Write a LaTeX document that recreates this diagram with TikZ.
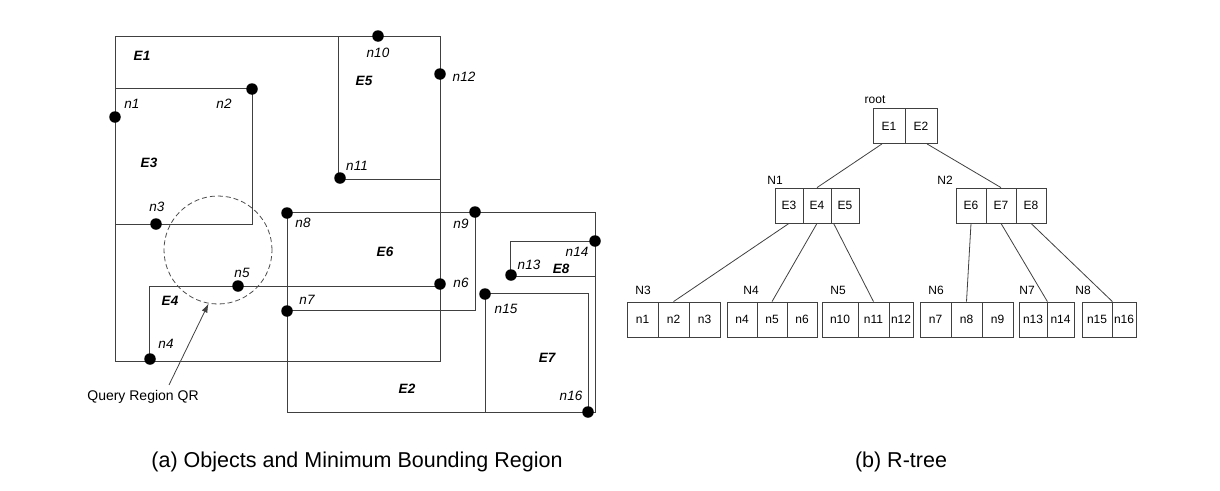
\documentclass[tikz,border=0pt]{standalone}
\usepackage{fontspec}
\setmainfont{Liberation Sans}
\usetikzlibrary{arrows.meta,calc}

\tikzset{
	mbr/.style = {draw = black!75, line width = 0.9pt},
	dot/.style = {circle, fill = black, inner sep = 0pt, minimum size = 11.5pt},
	elab/.style = {font = \fontsize{13.5}{15}\selectfont\bfseries\itshape},
	nlab/.style = {font = \fontsize{13.5}{15}\selectfont\itshape},
	cell/.style = {draw = black!75, line width = 0.8pt, minimum height = 35pt, inner sep = 0pt, font = \fontsize{12}{14}\selectfont},
	tlab/.style = {font = \fontsize{12}{14}\selectfont},
	edge/.style = {draw = black!75, line width = 0.8pt},
	caption/.style = {font = \fontsize{21.5}{24}\selectfont}
}

\begin{document}
\begin{tikzpicture} [x = 1pt, y = -1pt]
	\useasboundingbox (0,0) rectangle (1220,490);
	% (a) bounding regions
	\draw [mbr] (115,36) rectangle (440,361);   % E1
	\draw [mbr] (338,36) rectangle (440,179);   % E5
	\draw [mbr] (115,88) rectangle (252,224);   % E3
	\draw [mbr] (149,286) rectangle (440,361);  % E4
	\draw [mbr] (287,212) rectangle (475,310);  % E6
	\draw [mbr] (287,212) rectangle (595,412);  % E2
	\draw [mbr] (510,241) rectangle (595,276);  % E8
	\draw [mbr] (485,293) rectangle (588,412);  % E7
	% objects
	\node [dot] (p1) at (115,117) {};
	\node [dot] (p2) at (252,89) {};
	\node [dot] (p3) at (156,224) {};
	\node [dot] (p4) at (150,359) {};
	\node [dot] (p5) at (238,286) {};
	\node [dot] (p6) at (440,284) {};
	\node [dot] (p7) at (287,311) {};
	\node [dot] (p8) at (287,213) {};
	\node [dot] (p9) at (475,212) {};
	\node [dot] (p10) at (378,36) {};
	\node [dot] (p11) at (340,178) {};
	\node [dot] (p12) at (440,74) {};
	\node [dot] (p13) at (511,275) {};
	\node [dot] (p14) at (595,241) {};
	\node [dot] (p15) at (485,294) {};
	\node [dot] (p16) at (588,412) {};
	\node [elab] (le1) at (142,56) {E1};
	\node [elab] (le2) at (407,389) {E2};
	\node [elab] (le3) at (149,163) {E3};
	\node [elab] (le4) at (170,301) {E4};
	\node [elab] (le5) at (364,81) {E5};
	\node [elab] (le6) at (385,252) {E6};
	\node [elab] (le7) at (547,358) {E7};
	\node [elab] (le8) at (561,269) {E8};
	\node [nlab] (ln1) at (132,104) {n1};
	\node [nlab] (ln2) at (224,104) {n2};
	\node [nlab] (ln3) at (157,207) {n3};
	\node [nlab] (ln4) at (166,344) {n4};
	\node [nlab] (ln5) at (242,273) {n5};
	\node [nlab] (ln6) at (461,283) {n6};
	\node [nlab] (ln7) at (307,300) {n7};
	\node [nlab] (ln8) at (303,223) {n8};
	\node [nlab] (ln9) at (461,224) {n9};
	\node [nlab] (ln10) at (378,53) {n10};
	\node [nlab] (ln11) at (357,166) {n11};
	\node [nlab] (ln12) at (464,77) {n12};
	\node [nlab] (ln13) at (529,265) {n13};
	\node [nlab] (ln14) at (577,252) {n14};
	\node [nlab] (ln15) at (506,309) {n15};
	\node [nlab] (ln16) at (571,396) {n16};
	% query region
	\node [circle, draw = black!70, line width = 0.8pt, dash pattern = on 5pt off 3pt, minimum size = 108pt, inner sep = 0pt] (qrc) at (218,250) {};
	\node [font = \fontsize{14}{16}\selectfont] (qr) at (143,397) {Query Region QR};
	\draw [edge, -{Latex[length = 9pt, width = 6pt]}] ($(qr.north) + (26,-2)$) -- (qrc.260);
	\node [caption] (capa) at (357,462) {(a) Objects and Minimum Bounding Region};

	% (b) R-tree
	\node [tlab] (lroot) at (875,100) {root};
	\node [cell, minimum width = 32pt] (r1) at (889,126) {E1};
	\node [cell, minimum width = 32pt] (r2) at (921,126) {E2};
	\node [tlab] (lN1) at (775,180) {N1};
	\node [cell, minimum width = 28pt] (e3) at (789,205.5) {E3};
	\node [cell, minimum width = 28pt] (e4) at (817,205.5) {E4};
	\node [cell, minimum width = 28pt] (e5) at (845,205.5) {E5};
	\node [tlab] (lN2) at (945,180) {N2};
	\node [cell, minimum width = 30pt] (e6) at (971,205.5) {E6};
	\node [cell, minimum width = 30pt] (e7) at (1001,205.5) {E7};
	\node [cell, minimum width = 30pt] (e8) at (1031,205.5) {E8};
	\node [tlab] (lN3) at (643,290) {N3};
	\node [cell, minimum width = 31pt] (l1) at (642.5,319.5) {n1};
	\node [cell, minimum width = 31pt] (l2) at (673.5,319.5) {n2};
	\node [cell, minimum width = 31pt] (l3) at (704.5,319.5) {n3};
	\node [tlab] (lN4) at (751,290) {N4};
	\node [cell, minimum width = 30pt] (l4) at (742,319.5) {n4};
	\node [cell, minimum width = 30pt] (l5) at (772,319.5) {n5};
	\node [cell, minimum width = 30pt] (l6) at (802,319.5) {n6};
	\node [tlab] (lN5) at (838,290) {N5};
	\node [cell, minimum width = 36pt] (l10) at (840,319.5) {n10};
	\node [cell, minimum width = 31pt] (l11) at (873.5,319.5) {n11};
	\node [cell, minimum width = 24pt] (l12) at (901,319.5) {n12};
	\node [tlab] (lN6) at (936,290) {N6};
	\node [cell, minimum width = 31pt] (l7) at (935.5,319.5) {n7};
	\node [cell, minimum width = 31pt] (l8) at (966.5,319.5) {n8};
	\node [cell, minimum width = 31pt] (l9) at (997.5,319.5) {n9};
	\node [tlab] (lN7) at (1027,290) {N7};
	\node [cell, minimum width = 28pt] (l13) at (1033,319.5) {n13};
	\node [cell, minimum width = 27pt] (l14) at (1060.5,319.5) {n14};
	\node [tlab] (lN8) at (1083,290) {N8};
	\node [cell, minimum width = 30pt] (l15) at (1097,319.5) {n15};
	\node [cell, minimum width = 24pt] (l16) at (1124,319.5) {n16};
	\draw [edge] (r1.south) ++(-7,0) -- (e4.north);
	\draw [edge] (r2.south) ++(6,0) -- (e7.north);
	\draw [edge] (e3.south) -- (l2.north);
	\draw [edge] (e4.south) -- (l5.north);
	\draw [edge] (e5.south west) ++(3,0) -- (l11.north);
	\draw [edge] (e6.south) -- (l8.north);
	\draw [edge] (e7.south) -- (l13.north east);
	\draw [edge] (e8.south) -- (l15.north east);
	\node [caption] (capb) at (901,462) {(b) R-tree};
\end{tikzpicture}
\end{document}
